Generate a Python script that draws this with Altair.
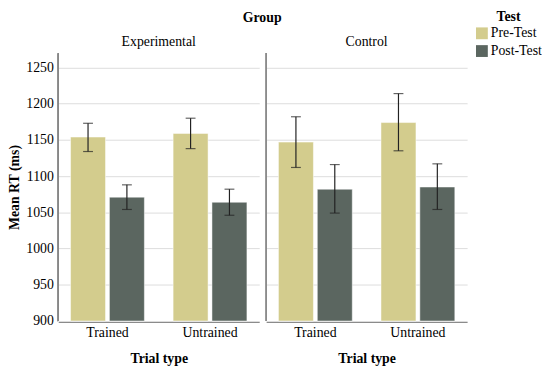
import altair as alt
import pandas as pd

groups = ["Experimental"] * 4 + ["Control"] * 4
trial_types = ["Trained", "Trained", "Untrained", "Untrained"] * 2
tests = ["Pre-Test", "Post-Test"] * 4
means = [1154, 1071, 1159, 1064, 1147, 1082, 1174, 1085]
lows = [1134, 1054, 1138, 1046, 1112, 1049, 1135, 1054]
highs = [1173, 1088, 1180, 1082, 1182, 1116, 1214, 1117]
y_ticks = [900, 950, 1000, 1050, 1100, 1150, 1200, 1250]

group_order = ["Experimental", "Control"]
trial_order = ["Trained", "Untrained"]
test_order = ["Pre-Test", "Post-Test"]
colors = ["#d3cc8d", "#5b6660"]

df = pd.DataFrame({
    "group": groups, "trial": trial_types, "test": tests,
    "mean": means, "low": lows, "high": highs,
})

FONT = "Liberation Serif"
W, H = 204, 272

x_enc = alt.X("trial:N", sort=trial_order, title="Trial type",
              scale=alt.Scale(paddingInner=0.28, paddingOuter=0.12),
              axis=alt.Axis(labelAngle=0, ticks=False, domainColor="#888888",
                            labelPadding=4, titlePadding=12))
xo_enc = alt.XOffset("test:N", sort=test_order, scale=alt.Scale(paddingInner=0.1, domain=test_order))
y_scale = alt.Scale(domain=[900, 1270], zero=False, nice=False)
y_axis = alt.Axis(values=y_ticks, format="d", ticks=False, domainColor="#888888",
                  gridColor="#dcdcdc", labelPadding=4, titlePadding=4,
                  labelOverlap=False, title="Mean RT (ms)")

bars = alt.Chart().mark_bar(stroke="white", strokeWidth=0.5).encode(
    x=x_enc,
    xOffset=xo_enc,
    y=alt.Y("mean:Q", scale=y_scale, axis=y_axis),
    y2=alt.datum(900),
    color=alt.Color("test:N", sort=test_order,
                    scale=alt.Scale(domain=test_order, range=colors),
                    legend=alt.Legend(title="Test", symbolType="square", symbolSize=144,
                                      symbolStrokeWidth=0, titleAnchor="middle",
                                      labelFontSize=14, titleFontSize=14,
                                      labelOffset=2, rowPadding=4, titlePadding=2,
                                      orient="none", legendX=423, legendY=-43)),
)

rule = alt.Chart().mark_rule(color="#222222", strokeWidth=1.2).encode(
    x=x_enc, xOffset=xo_enc,
    y=alt.Y("low:Q", scale=y_scale, axis=y_axis),
    y2="high:Q",
)
cap_lo = alt.Chart().mark_tick(color="#222222", size=10, thickness=1.2).encode(
    x=x_enc, xOffset=xo_enc,
    y=alt.Y("low:Q", scale=y_scale, axis=y_axis),
)
cap_hi = alt.Chart().mark_tick(color="#222222", size=10, thickness=1.2).encode(
    x=x_enc, xOffset=xo_enc,
    y=alt.Y("high:Q", scale=y_scale, axis=y_axis),
)
left_line = alt.Chart().mark_rule(color="#888888", strokeWidth=1).encode(
    x=alt.value(0), y=alt.value(0), y2=alt.value(H),
)

layer = alt.layer(bars, rule, cap_lo, cap_hi, left_line, data=df).properties(width=W, height=H)

chart = layer.facet(
    column=alt.Column("group:N", sort=group_order, title="Group",
                      header=alt.Header(labelFontSize=14, titleFontSize=14,
                                        titleFontWeight="bold", labelPadding=3,
                                        titlePadding=0)),
    spacing=6,
).properties(padding=0).configure(font=FONT).configure_view(stroke=None).configure_axis(
    labelFont=FONT, titleFont=FONT, labelFontSize=14, titleFontSize=14,
    labelColor="#000000", titleColor="#000000", titleFontWeight="bold",
).configure_legend(labelFont=FONT, titleFont=FONT, labelColor="#000", titleColor="#000").configure_header(
    labelFont=FONT, titleFont=FONT, labelColor="#000", titleColor="#000")

chart.save("out.html", embed_options={"renderer": "svg", "actions": False})
